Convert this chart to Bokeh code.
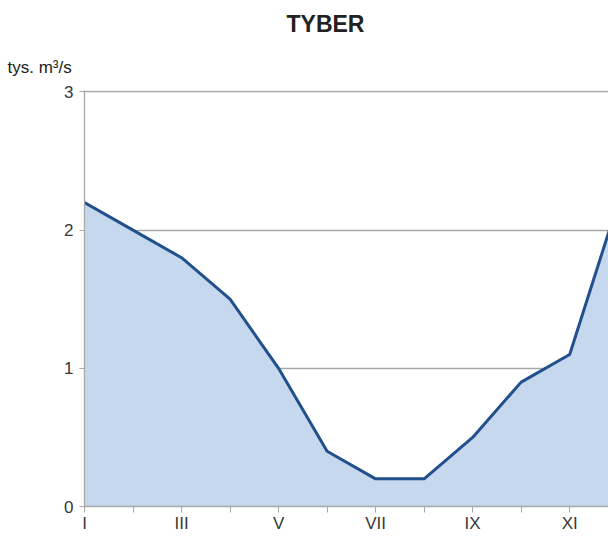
from bokeh.plotting import figure
from bokeh.models import Range1d, FixedTicker, Title
from bokeh.embed import file_html
from bokeh.resources import INLINE

months = ["I", "II", "III", "IV", "V", "VI", "VII", "VIII", "IX", "X", "XI", "XII"]
month_num = [1, 2, 3, 4, 5, 6, 7, 8, 9, 10, 11, 12]
flow = [2.2, 2.0, 1.8, 1.5, 1.0, 0.4, 0.2, 0.2, 0.5, 0.9, 1.1, 2.2]
y_ticks = [0, 1, 2, 3]
x_major = [1, 3, 5, 7, 9, 11]
x_minor = [2, 4, 6, 8, 10, 12]

FONT = "Liberation Sans"
TXT = "#383838"
GRID = "#a8a8a8"

p = figure(width=608, height=541, output_backend="svg", toolbar_location=None,
           x_range=Range1d(1, 11.8), y_range=Range1d(0, 3.01),
           min_border_left=84, min_border_top=90, min_border_bottom=35,
           min_border_right=0)
p.outline_line_color = None
p.background_fill_color = "white"

p.varea(x=month_num, y1=[0] * len(flow), y2=flow, fill_color="#c5d8ee")
p.line(x=month_num, y=flow, line_color="#22508c", line_width=3)

p.xgrid.grid_line_color = None
p.ygrid.grid_line_color = GRID
p.ygrid.grid_line_width = 1.3
p.ygrid.ticker = FixedTicker(ticks=y_ticks)

xa = p.xaxis[0]
xa.ticker = FixedTicker(ticks=x_major, minor_ticks=x_minor)
xa.major_label_overrides = {m: months[m - 1] for m in x_major}
xa.axis_line_color = GRID
xa.axis_line_width = 1.3
xa.major_tick_line_color = GRID
xa.minor_tick_line_color = GRID
xa.major_tick_in = 0
xa.major_tick_out = 6
xa.minor_tick_in = 0
xa.minor_tick_out = 6
xa.major_label_standoff = 1
xa.major_label_text_font = FONT
xa.major_label_text_font_size = "17px"
xa.major_label_text_color = TXT

ya = p.yaxis[0]
ya.ticker = FixedTicker(ticks=y_ticks)
ya.axis_line_color = GRID
ya.axis_line_width = 1.3
ya.major_tick_line_color = GRID
ya.major_tick_in = 0
ya.major_tick_out = 5
ya.minor_tick_line_color = None
ya.major_label_standoff = 6
ya.major_label_text_font = FONT
ya.major_label_text_font_size = "17px"
ya.major_label_text_color = TXT

p.title = Title(text="TYBER", align="left", offset=202,
                text_font=FONT, text_font_size="23px", text_font_style="bold",
                text_color="#222222", standoff=10)
p.add_layout(Title(text="tys. m³/s", align="left", offset=-77,
                   text_font=FONT, text_font_size="17px", text_font_style="normal",
                   text_color="#222222", standoff=28), "above")

open("out.html", "w").write(file_html(p, INLINE))
